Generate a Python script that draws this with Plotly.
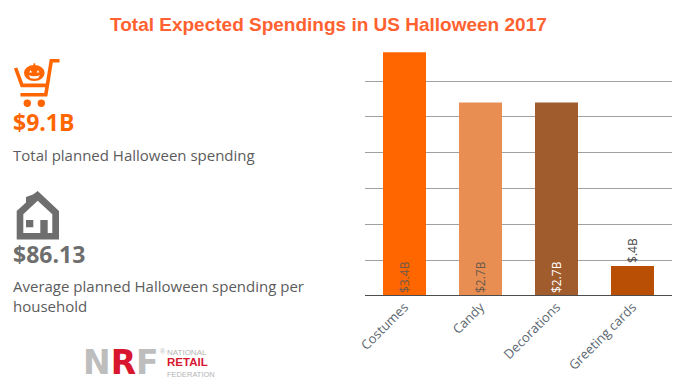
import plotly.graph_objects as go

W, H = 686, 390

categories = ["Costumes", "Candy", "Decorations", "Greeting cards"]
values = [3.4, 2.7, 2.7, 0.42]
bar_labels = ["$3.4B", "$2.7B", "$2.7B", "$.4B"]
bar_colors = ["#ff6600", "#e88e52", "#a15c2e", "#b84f04"]
label_colors = ["#6b5a4c", "#6b5a4c", "#ffffff", "#4a4a4a"]
label_positions = ["inside", "inside", "inside", "outside"]
grid_values = [0.5, 1.0, 1.5, 2.0, 2.5, 3.0]

TITLE = "Total Expected Spendings in US Halloween 2017"


def px(x):
    return x / W


def py(y):
    return 1 - y / H


def poly(points, close=True):
    s = "M" + " L".join(f"{px(x):.5f},{py(y):.5f}" for x, y in points)
    return s + (" Z" if close else "")


def note(x, y, text, size, color, family="Open Sans", anchor="left"):
    return dict(xref="paper", yref="paper", x=px(x), y=py(y), text=text, showarrow=False,
                xanchor=anchor, yanchor="middle", align="left",
                font=dict(size=size, color=color, family=family), borderpad=0, borderwidth=0)


def fill_shape(path, color):
    return dict(type="path", xref="paper", yref="paper", path=path, fillcolor=color, line=dict(width=0))


def stroke_shape(path, color, width):
    return dict(type="path", xref="paper", yref="paper", path=path, line=dict(color=color, width=width))


def oval(cx, cy, rx, ry, color):
    return dict(type="circle", xref="paper", yref="paper", x0=px(cx - rx), x1=px(cx + rx),
                y0=py(cy + ry), y1=py(cy - ry), fillcolor=color, line=dict(width=0))


ORANGE = "#ff6600"
GREY = "#6e6e6e"
WHITE = "#ffffff"

shapes = [
    # axis baseline, drawn over the bars
    dict(type="line", xref="x domain", yref="y", x0=0, x1=1, y0=0, y1=0, layer="above",
         line=dict(color="#4d4d4d", width=2)),
    # shopping cart
    stroke_shape(poly([(59.5, 60.8), (51.3, 60.8), (45.8, 94.8), (20.5, 94.8)], close=False), ORANGE, 3.6),
    stroke_shape(poly([(15.6, 68), (22, 85.4), (46.5, 85.4)], close=False), ORANGE, 3.6),
    oval(27.3, 103.3, 3.7, 3.7, ORANGE),
    oval(41.3, 103.3, 3.7, 3.7, ORANGE),
    # pumpkin
    oval(34.3, 73, 10.3, 8, ORANGE),
    fill_shape(poly([(33.2, 66), (33.6, 63.2), (35.2, 63.2), (35.4, 66)]), ORANGE),
    fill_shape(poly([(29.2, 72.5), (30.6, 70), (32, 72.5)]), WHITE),
    fill_shape(poly([(36.6, 72.5), (38, 70), (39.4, 72.5)]), WHITE),
    fill_shape(poly([(28.5, 75), (31, 76), (34.3, 76.2), (37.6, 76), (40, 75), (38, 78.2), (34.3, 78.8), (30.5, 78.2)]), WHITE),
    # house
    fill_shape(poly([(37.7, 191), (59, 211), (59, 239.5), (16.7, 239.5), (16.7, 211), (26, 202.5),
                     (26, 197), (33, 194.5)]), GREY),
    fill_shape(poly([(37.7, 200.7), (52.3, 214.3), (52.3, 233), (23.3, 233), (23.3, 214.3)]), WHITE),
    fill_shape(poly([(26, 220), (33.3, 220), (33.3, 227.3), (26, 227.3)]), GREY),
    fill_shape(poly([(40.3, 220), (47.7, 220), (47.7, 233), (40.3, 233)]), GREY),
]

annotations = [
    note(328, 25, f"<b>{TITLE}</b>", 19, "#ff6230", "Liberation Sans", "center"),
    note(13, 122, "<b>$9.1B</b>", 23, ORANGE),
    note(13, 155, "Total planned Halloween spending", 15, "#5c5c5c"),
    note(13, 254, "<b>$86.13</b>", 23, GREY),
    note(13, 286, "Average planned Halloween spending per", 15, "#5c5c5c"),
    note(13, 306, "household", 15, "#5c5c5c"),
    note(83, 362.5, "<b>N<span style='color:#d8172f'>R</span>F</b>", 33, "#bdbdbd", "DejaVu Sans"),
    note(160, 351, "®", 7, "#bdbdbd", "Liberation Sans"),
    note(167, 352.5, "NATIONAL", 8, "#b5b5b5", "Liberation Sans"),
    note(167, 361.5, "<b>RETAIL</b>", 11.5, "#d8172f", "Liberation Sans"),
    note(167, 374, "FEDERATION", 7.5, "#b5b5b5", "Liberation Sans"),
]

fig = go.Figure(go.Bar(
    x=categories,
    y=values,
    width=0.566,
    marker=dict(color=bar_colors, line=dict(width=0)),
    text=bar_labels,
    textposition=label_positions,
    textangle=-90,
    insidetextanchor="start",
    constraintext="none",
    cliponaxis=False,
    textfont=dict(family="Open Sans", size=12, color=label_colors),
    hoverinfo="skip",
))

fig.update_layout(
    width=W,
    height=H,
    autosize=False,
    margin=dict(l=0, r=0, t=0, b=0),
    paper_bgcolor="#ffffff",
    plot_bgcolor="#ffffff",
    showlegend=False,
    shapes=shapes,
    annotations=annotations,
    xaxis=dict(
        domain=[365 / W, 672 / W],
        range=[-0.52, 3.52],
        tickangle=-45,
        tickfont=dict(family="Open Sans", size=13, color="#5c6670"),
        showline=False,
        ticks="",
        showgrid=False,
        automargin=False,
    ),
    yaxis=dict(
        domain=[1 - 296 / H, 1 - 45.2 / H],
        range=[0, 3.5],
        tickvals=grid_values,
        showticklabels=False,
        ticks="",
        showgrid=True,
        gridcolor="#a0a0a0",
        gridwidth=1,
        zeroline=False,
        automargin=False,
    ),
)

fig.write_html("out.html", config=dict(displayModeBar=False),
               post_script="document.body.style.margin='0';document.documentElement.style.overflow='hidden';")
